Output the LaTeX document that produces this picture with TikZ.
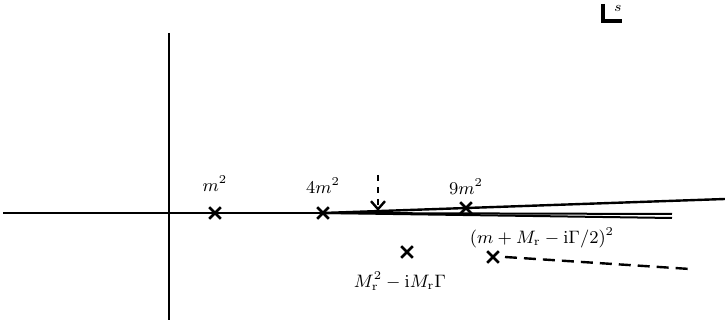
\documentclass[tikz,border=0pt]{standalone}
\usepackage{amsmath,amssymb}
\usetikzlibrary{arrows.meta,positioning,shapes.misc}

\begin{document}
\begin{tikzpicture}[x=0.5pt,y=-0.5pt,line width=1pt,
    pole/.style={draw, cross out, line width=1.3pt, minimum size=4.5pt, inner sep=0pt},
    lab/.style={font=\small}]
    \useasboundingbox (0,0) rectangle (725,325);
    % Axes of the s plane
    \coordinate (xl) at (3,213);
    \coordinate (yt) at (169,33);
    \coordinate (yb) at (169,320);
    \draw (yt) -- (yb);

    % Thresholds on the real axis
    \node[pole] (m2) at (215,213) {};
    \node[pole] (fourm) at (323,213) {};
    \node[pole] (ninem) at (466,208) {};
    \node[lab, above=4pt of m2] {$m^2$};
    \node[lab, above=3pt of fourm] {$4m^2$};
    \node[lab, above=3pt of ninem.center] {$9m^2$};
    \draw (xl) -- (fourm.center);

    % Cut and contour lines
    \coordinate (cutA) at (725,199);
    \coordinate (cutB) at (672,214);
    \coordinate (cutC) at (672,218);
    \draw[line width=1.2pt] (fourm.center) -- (cutA);
    \draw (fourm.center) -- (cutB);
    \draw (fourm.center) -- (cutC);

    % Dashed arrow
    \coordinate (arrtop) at (378,175);
    \coordinate (arrtip) at (378,211);
    \draw[dashed, line width=1.2pt, -{Straight Barb[length=4pt,width=7pt]}] (arrtop) -- (arrtip);

    % Resonance poles
    \node[pole] (res) at (407,252) {};
    \node[lab, below=6pt of res.center, xshift=-3.5pt] {$M_{\mathrm{r}}^2-\mathrm{i}M_{\mathrm{r}}\Gamma$};
    \node[pole] (thr) at (493,257) {};
    \node[lab] (thrlab) at (542,238) {$(m+M_{\mathrm{r}}-\mathrm{i}\Gamma/2)^2$};
    \coordinate (dashend) at (690,269);
    \draw[dashed, line width=1.2pt, dash pattern=on 6pt off 3.5pt] ([xshift=6pt]thr.center) -- (dashend);

    % s plane sign
    \coordinate (sT) at (603,4);
    \coordinate (sR) at (622,21);
    \draw[line width=2pt] (sT) |- (sR);
    \node[lab, font=\scriptsize] at (618,8) {$s$};
\end{tikzpicture}
\end{document}
